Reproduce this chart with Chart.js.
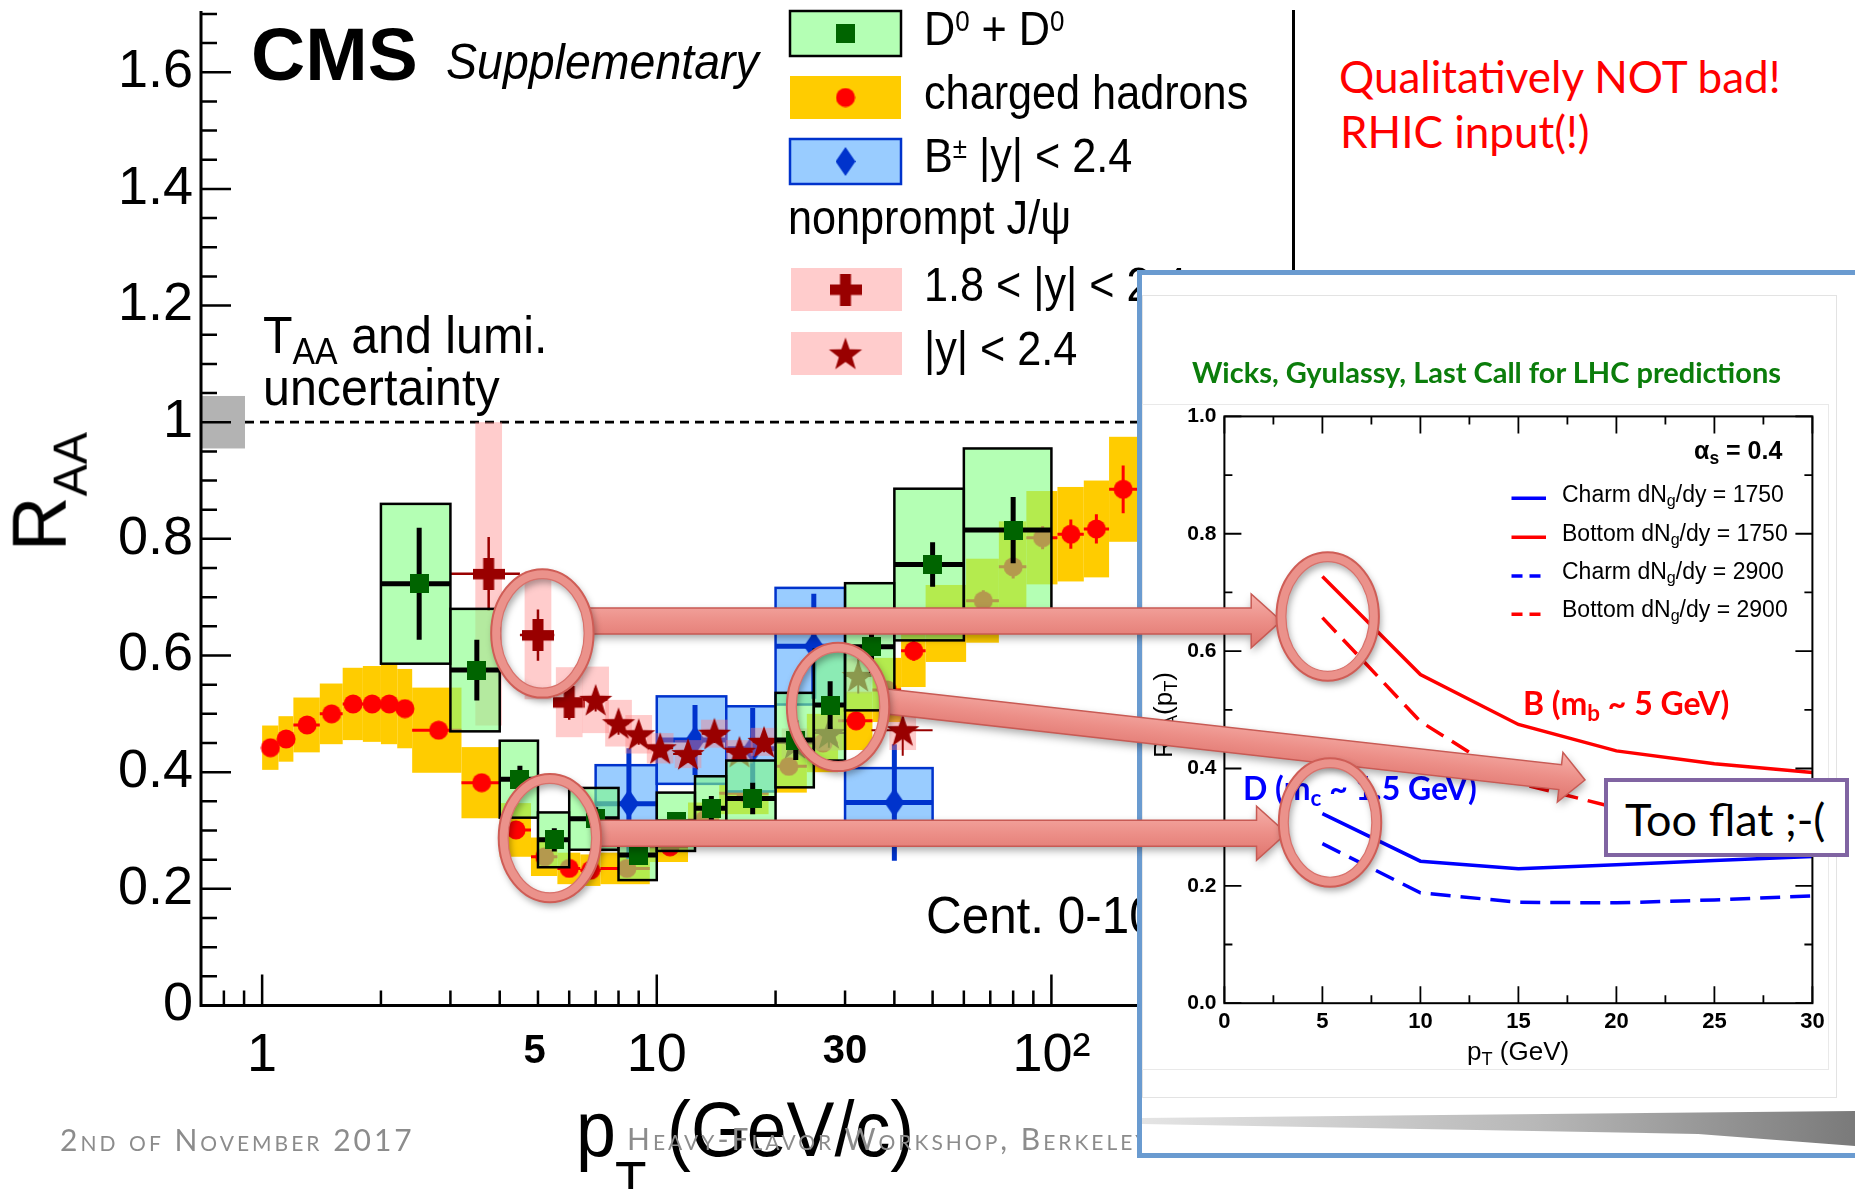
<!DOCTYPE html>
<html lang="en">
<head>
<meta charset="UTF-8">
<title>RAA heavy flavour</title>
<script src="https://cdn.jsdelivr.net/npm/chart.js"></script>
<style>
  body { margin:0; width:1855px; height:1189px; overflow:hidden; position:relative; background:#fff; }
  canvas, .abs, .txt { position:absolute; }
  .txt { white-space:nowrap; }
  .sb { font-size:0.7em; position:relative; top:0.3em; }
  .sp { font-size:0.6em; position:relative; top:-0.5em; }
  #main { left:0; top:0; z-index:1; }
  #inset { left:1143px; top:340px; z-index:6; }
  #overlay { left:0; top:0; z-index:8; pointer-events:none; }
  #panel { left:1137px; top:270px; width:740px; height:888px; border:5px solid #6a9bd0; background:#fff; box-sizing:border-box; z-index:4; }
  #frame1 { left:1142px; top:295px; width:695px; height:803px; border:1.5px solid #e3e3e3; box-sizing:border-box; z-index:5; }
  #frame2 { left:1142px; top:404px; width:687px; height:666px; border:1px solid #e9e9e9; box-sizing:border-box; z-index:5; }
  #shadow { left:1142px; top:1108px; width:713px; height:42px; z-index:5;
            background:linear-gradient(90deg,#e4e4e4 0%,#b8b8b8 55%,#7a7a7a 100%);
            clip-path:polygon(0 10px,100% 3px,100% 38px,78% 26px,0 16px); }
  #flat { left:1604px; top:778px; width:245px; height:79px; border:4px solid #8064a2; background:#fff; box-sizing:border-box; z-index:9; }
  #rline { left:1292px; top:10px; width:2.5px; height:262px; background:#000; z-index:2; }
</style>
</head>
<body>
<canvas id="main" width="1300" height="1189"></canvas>
<div class="abs" id="rline"></div>
<div class="abs" id="panel"></div>
<div class="abs" id="frame1"></div>
<div class="abs" id="frame2"></div>
<div class="abs" id="shadow"></div>
<canvas id="inset" width="690" height="740"></canvas>
<canvas id="overlay" width="1855" height="1189"></canvas>
<div class="abs" id="flat"></div>

<script>
// ---- charged hadrons, 0-100% ----
const chPt   = [1.05, 1.15, 1.3, 1.5, 1.7, 1.9, 2.1, 2.3, 2.8, 3.6, 4.4, 5.2, 6.0, 6.8, 8.4, 10.8, 13.2, 16.8, 21.6, 26.4, 32.0, 38.4, 44.8, 54.4, 67.2, 80.0, 95.0, 112, 130, 152];
const chLo   = [1.0, 1.1, 1.2, 1.4, 1.6, 1.8, 2.0, 2.2, 2.4, 3.2, 4.0, 4.8, 5.6, 6.4, 7.2, 9.6, 12.0, 14.4, 19.2, 24.0, 28.8, 35.2, 41.6, 48.0, 60.8, 73.6, 86.4, 103.6, 120.8, 140];
const chHi   = [1.1, 1.2, 1.4, 1.6, 1.8, 2.0, 2.2, 2.4, 3.2, 4.0, 4.8, 5.6, 6.4, 7.2, 9.6, 12.0, 14.4, 19.2, 24.0, 28.8, 35.2, 41.6, 48.0, 60.8, 73.6, 86.4, 103.6, 120.8, 140, 165];
const chR    = [0.442, 0.457, 0.481, 0.500, 0.517, 0.517, 0.517, 0.509, 0.472, 0.382, 0.301, 0.255, 0.235, 0.232, 0.235, 0.272, 0.318, 0.364, 0.410, 0.450, 0.488, 0.541, 0.608, 0.655, 0.694, 0.752, 0.802, 0.808, 0.817, 0.885];
const chStat = [0.004, 0.004, 0.004, 0.004, 0.004, 0.004, 0.004, 0.004, 0.004, 0.004, 0.004, 0.004, 0.004, 0.004, 0.004, 0.005, 0.006, 0.006, 0.008, 0.010, 0.012, 0.014, 0.017, 0.015, 0.018, 0.020, 0.020, 0.025, 0.025, 0.041];
const chSys  = [0.038, 0.039, 0.047, 0.052, 0.062, 0.065, 0.069, 0.068, 0.073, 0.061, 0.046, 0.033, 0.027, 0.027, 0.027, 0.026, 0.030, 0.036, 0.045, 0.050, 0.050, 0.055, 0.062, 0.066, 0.072, 0.078, 0.080, 0.081, 0.083, 0.090];

// ---- D0 + D0bar ----
const d0Pt   = [2.5, 3.5, 4.5, 5.5, 7, 9, 11.25, 13.75, 17.5, 22.5, 27.5, 35, 50, 80];
const d0Lo   = [2, 3, 4, 5, 6, 8, 10, 12.5, 15, 20, 25, 30, 40, 60];
const d0Hi   = [3, 4, 5, 6, 8, 10, 12.5, 15, 20, 25, 30, 40, 60, 100];
const d0R    = [0.723, 0.575, 0.388, 0.284, 0.320, 0.258, 0.315, 0.338, 0.355, 0.455, 0.515, 0.615, 0.756, 0.815];
const d0Stat = [0.096, 0.052, 0.023, 0.020, 0.020, 0.015, 0.012, 0.021, 0.027, 0.034, 0.041, 0.045, 0.038, 0.057];
const d0Sys  = [0.137, 0.105, 0.066, 0.047, 0.053, 0.043, 0.050, 0.055, 0.065, 0.081, 0.095, 0.109, 0.130, 0.140];

// ---- B+- |y|<2.4 ----
const bPt   = [8.5, 12.5, 17.5, 25, 40];
const bLo   = [7, 10, 15, 20, 30];
const bHi   = [10, 15, 20, 30, 50];
const bR    = [0.346, 0.455, 0.440, 0.616, 0.348];
const bStat = [0.095, 0.060, 0.070, 0.090, 0.100];
const bSys  = [0.066, 0.075, 0.073, 0.100, 0.059];

// ---- nonprompt J/psi, 1.8<|y|<2.4 ----
const jfPt   = [3.75, 5.0, 6.0];
const jfLo   = [3.0, 4.5, 5.5];
const jfHi   = [4.5, 5.5, 6.5];
const jfR    = [0.740, 0.635, 0.520];
const jfStat = [0.063, 0.044, 0.030];
const jfSys  = [0.260, 0.110, 0.060];

// ---- nonprompt J/psi, |y|<2.4 ----
const jcPt   = [7.0, 8.0, 9.0, 10.2, 12.0, 14.0, 16.2, 18.7, 22.4, 27.3, 32.4, 42.0];
const jcLo   = [6.5, 7.5, 8.5, 9.5, 11, 13, 15, 17.5, 20, 25, 30, 35];
const jcHi   = [7.5, 8.5, 9.5, 11, 13, 15, 17.5, 20, 25, 30, 35, 50];
const jcR    = [0.524, 0.484, 0.465, 0.441, 0.431, 0.466, 0.435, 0.452, 0.450, 0.467, 0.565, 0.472];
const jcStat = [0.020, 0.020, 0.018, 0.016, 0.015, 0.016, 0.016, 0.018, 0.020, 0.025, 0.030, 0.044];
const jcSys  = [0.057, 0.040, 0.033, 0.026, 0.024, 0.024, 0.020, 0.024, 0.025, 0.030, 0.030, 0.034];

const taaUnc = 0.045;
const yTicks = [0, 0.2, 0.4, 0.6, 0.8, 1.0, 1.2, 1.4, 1.6];
const xLabels = { 1: '1', 10: '10', 100: '10²' };

// ---- Wicks-Gyulassy predictions (inset) ----
const insetPt    = [5, 10, 15, 20, 25, 30];
const charm1750  = [0.323, 0.242, 0.229, 0.236, 0.243, 0.250];
const bottom1750 = [0.727, 0.560, 0.475, 0.430, 0.408, 0.393];
const charm2900  = [0.272, 0.188, 0.172, 0.171, 0.176, 0.183];
const bottom2900 = [0.657, 0.480, 0.375, 0.333, 0.310, 0.295];

Chart.defaults.font.family = '"Liberation Sans", Arial, sans-serif';
Chart.defaults.color = '#000';

const pts = (xs, ys) => xs.map((x, i) => ({ x, y: ys[i] }));

function markerCanvas(w, h, paint) {
  const c = document.createElement('canvas');
  c.width = w; c.height = h;
  paint(c.getContext('2d'), w, h);
  return c;
}
const squareImg = markerCanvas(19, 19, (g, w, h) => { g.fillStyle = '#006400'; g.fillRect(0, 0, w, h); });
const circleImg = markerCanvas(20, 20, g => { g.fillStyle = '#ff0000'; g.beginPath(); g.arc(10, 10, 9.5, 0, 2 * Math.PI); g.fill(); });
const diamondImg = markerCanvas(20, 29, (g, w, h) => {
  g.fillStyle = '#0033cc'; g.beginPath();
  g.moveTo(w / 2, 0); g.lineTo(w, h / 2); g.lineTo(w / 2, h); g.lineTo(0, h / 2); g.closePath(); g.fill();
});
const crossImg = markerCanvas(32, 32, g => { g.fillStyle = '#990000'; g.fillRect(0, 11, 32, 10.5); g.fillRect(10.5, 0, 11, 32); });
const starImg = markerCanvas(36, 36, g => {
  g.fillStyle = '#990000'; g.beginPath();
  for (let i = 0; i < 10; i++) {
    const r = i % 2 ? 7 : 17.5, a = -Math.PI / 2 + i * Math.PI / 5;
    g.lineTo(18 + r * Math.cos(a), 19.5 + r * Math.sin(a));
  }
  g.closePath(); g.fill();
});

// boxes + error bars, drawn just under each dataset's markers
const errorLayers = {
  id: 'errorLayers',
  beforeDatasetDraw(chart, args) {
    const ds = chart.data.datasets[args.index];
    if (!ds.sys) return;
    const { ctx, chartArea: a, scales: { x, y } } = chart;
    ctx.save();
    ctx.beginPath(); ctx.rect(a.left, a.top, a.right - a.left, a.bottom - a.top); ctx.clip();
    ds.data.forEach((p, i) => {
      const x0 = x.getPixelForValue(ds.boxFactor ? p.x / ds.boxFactor : ds.lo[i]);
      const x1 = x.getPixelForValue(ds.boxFactor ? p.x * ds.boxFactor : ds.hi[i]);
      const y0 = y.getPixelForValue(p.y + ds.sys[i]), y1 = y.getPixelForValue(p.y - ds.sys[i]);
      ctx.fillStyle = ds.boxFill;
      ctx.fillRect(x0, y0, x1 - x0, y1 - y0);
      if (ds.boxLine) { ctx.strokeStyle = ds.boxLine; ctx.lineWidth = 2.5; ctx.strokeRect(x0, y0, x1 - x0, y1 - y0); }
    });
    ctx.strokeStyle = ds.barColor; ctx.lineWidth = ds.barWidth;
    ctx.beginPath();
    ds.data.forEach((p, i) => {
      const px = x.getPixelForValue(p.x), py = y.getPixelForValue(p.y);
      ctx.moveTo(x.getPixelForValue(ds.lo[i]), py); ctx.lineTo(x.getPixelForValue(ds.hi[i]), py);
      ctx.moveTo(px, y.getPixelForValue(p.y + ds.stat[i])); ctx.lineTo(px, y.getPixelForValue(p.y - ds.stat[i]));
    });
    ctx.stroke();
    ctx.restore();
  }
};

const legendRows = [
  { top: 11,  h: 45, left: 790, fill: '#b4ffb4', line: '#000',    img: squareImg },
  { top: 76,  h: 43, left: 790, fill: '#ffcc00', line: null,      img: circleImg },
  { top: 139, h: 45, left: 790, fill: '#99ccff', line: '#0033cc', img: diamondImg },
  { top: 268, h: 43, left: 791, fill: '#ffcccc', line: null,      img: crossImg },
  { top: 332, h: 43, left: 791, fill: '#ffcccc', line: null,      img: starImg }
];

const cmsDecor = {
  id: 'cmsDecor',
  beforeDatasetsDraw(chart) {
    const { ctx, chartArea: a, scales: { y } } = chart;
    const y1 = y.getPixelForValue(1);
    ctx.save();
    ctx.strokeStyle = '#000'; ctx.lineWidth = 2.7; ctx.setLineDash([9, 6]);
    ctx.beginPath(); ctx.moveTo(a.left + 44, y1); ctx.lineTo(a.right, y1); ctx.stroke();
    ctx.setLineDash([]);
    const t = y.getPixelForValue(1 + taaUnc), b = y.getPixelForValue(1 - taaUnc);
    ctx.fillStyle = '#b3b3b3';
    ctx.fillRect(a.left, t, 44, b - t);
    ctx.restore();
  },
  afterDraw(chart) {
    const { ctx, chartArea: a, scales: { x, y } } = chart;
    ctx.save();
    ctx.strokeStyle = '#000'; ctx.lineWidth = 3;
    ctx.beginPath();
    ctx.moveTo(a.left, a.top); ctx.lineTo(a.left, a.bottom + 1.5);
    ctx.moveTo(a.left - 1.5, a.bottom); ctx.lineTo(a.right, a.bottom);
    ctx.stroke();
    ctx.lineWidth = 2.5;
    ctx.beginPath();
    for (let k = 0; k <= 34; k++) {
      const py = y.getPixelForValue(k * 0.05), len = k % 4 === 0 ? 30 : 16;
      ctx.moveTo(a.left, py); ctx.lineTo(a.left + len, py);
    }
    for (let d = -1; d <= 2; d++) {
      for (let m = 1; m <= 9; m++) {
        const v = m * Math.pow(10, d);
        if (v < 0.75 || v > 400) continue;
        const px = x.getPixelForValue(v), len = m === 1 ? 31 : 15;
        ctx.moveTo(px, a.bottom); ctx.lineTo(px, a.bottom - len);
      }
    }
    ctx.stroke();
    legendRows.forEach(r => {
      ctx.fillStyle = r.fill;
      ctx.fillRect(r.left, r.top, 111, r.h);
      if (r.line) { ctx.strokeStyle = r.line; ctx.lineWidth = 2.5; ctx.strokeRect(r.left, r.top, 111, r.h); }
      ctx.drawImage(r.img, 845.5 - r.img.width / 2, r.top + r.h / 2 - r.img.height / 2);
    });
    ctx.restore();
  }
};

const mainChart = new Chart(document.getElementById('main'), {
  type: 'scatter',
  data: {
    datasets: [
      { data: pts(d0Pt, d0R), lo: d0Lo, hi: d0Hi, stat: d0Stat, sys: d0Sys,
        boxFill: 'rgba(130,255,130,0.6)', boxLine: '#000', barColor: '#000', barWidth: 5,
        pointStyle: squareImg, pointRadius: 10 },
      { data: pts(jcPt, jcR), lo: jcLo, hi: jcHi, stat: jcStat, sys: jcSys, boxFactor: 1.081,
        boxFill: 'rgba(255,128,128,0.4)', barColor: '#990000', barWidth: 2,
        pointStyle: starImg, pointRadius: 10 },
      { data: pts(jfPt, jfR), lo: jfLo, hi: jfHi, stat: jfStat, sys: jfSys, boxFactor: 1.081,
        boxFill: 'rgba(255,128,128,0.4)', barColor: '#990000', barWidth: 2.5,
        pointStyle: crossImg, pointRadius: 10 },
      { data: pts(bPt, bR), lo: bLo, hi: bHi, stat: bStat, sys: bSys,
        boxFill: '#99ccff', boxLine: '#0033cc', barColor: '#0033cc', barWidth: 5,
        pointStyle: diamondImg, pointRadius: 10 },
      { data: pts(chPt, chR), lo: chLo, hi: chHi, stat: chStat, sys: chSys,
        boxFill: '#ffcc00', barColor: '#ff0000', barWidth: 3,
        pointStyle: circleImg, pointRadius: 10 }
    ]
  },
  options: {
    animation: false, responsive: false, events: [],
    layout: { padding: { top: 11, right: 7, left: 0, bottom: 0 } },
    plugins: { legend: { display: false }, tooltip: { enabled: false } },
    scales: {
      x: {
        type: 'logarithmic', min: 0.7, max: 400,
        grid: { display: false, drawTicks: false }, border: { display: false },
        afterBuildTicks: s => { s.ticks = [1, 10, 100].map(v => ({ value: v })); },
        afterFit: s => { s.height = 183.5; s.paddingLeft = 0; s.paddingRight = 0; },
        ticks: { autoSkip: false, maxRotation: 0, padding: 18, font: { size: 54 }, callback: v => xLabels[v] || '' }
      },
      y: {
        min: 0, max: 1.705,
        grid: { display: false, drawTicks: false }, border: { display: false },
        afterBuildTicks: s => { s.ticks = yTicks.map(v => ({ value: v })); },
        afterFit: s => { s.width = 201; s.paddingTop = 0; s.paddingBottom = 0; },
        ticks: { padding: 8, font: { size: 54 }, callback: v => (v === 0 || v === 1) ? String(v) : Number(v).toFixed(1) }
      }
    }
  },
  plugins: [errorLayers, cmsDecor]
});

const keySamples = [
  { y: 158.3, color: '#0000ff', dash: [] },
  { y: 197.3, color: '#ff0000', dash: [] },
  { y: 236.0, color: '#0000ff', dash: [11, 7] },
  { y: 274.3, color: '#ff0000', dash: [11, 7] }
];

const insetFrame = {
  id: 'insetFrame',
  afterDraw(chart) {
    const { ctx, chartArea: a, scales: { x, y } } = chart;
    ctx.save();
    ctx.strokeStyle = '#000'; ctx.lineWidth = 2;
    ctx.strokeRect(a.left, a.top, a.right - a.left, a.bottom - a.top);
    ctx.lineWidth = 1.8;
    ctx.beginPath();
    for (let k = 0; k <= 12; k++) {
      const px = x.getPixelForValue(k * 2.5), len = k % 2 === 0 ? 17 : 8;
      ctx.moveTo(px, a.bottom); ctx.lineTo(px, a.bottom - len);
      ctx.moveTo(px, a.top); ctx.lineTo(px, a.top + len);
    }
    for (let k = 0; k <= 10; k++) {
      const py = y.getPixelForValue(k / 10), len = k % 2 === 0 ? 17 : 8;
      ctx.moveTo(a.left, py); ctx.lineTo(a.left + len, py);
      ctx.moveTo(a.right, py); ctx.lineTo(a.right - len, py);
    }
    ctx.stroke();
    ctx.lineWidth = 3.5;
    keySamples.forEach(k => {
      ctx.strokeStyle = k.color; ctx.setLineDash(k.dash);
      ctx.beginPath(); ctx.moveTo(368.5, k.y); ctx.lineTo(403, k.y); ctx.stroke();
    });
    ctx.restore();
  }
};

const curve = (ys, color, dash) => ({
  data: pts(insetPt, ys), showLine: true, borderColor: color, borderWidth: 3.5,
  borderDash: dash, pointRadius: 0, tension: 0
});

const insetChart = new Chart(document.getElementById('inset'), {
  type: 'scatter',
  data: {
    datasets: [
      curve(charm1750, '#0000ff', []),
      curve(bottom1750, '#ff0000', []),
      curve(charm2900, '#0000ff', [20, 10]),
      curve(bottom2900, '#ff0000', [20, 10])
    ]
  },
  options: {
    animation: false, responsive: false, events: [],
    layout: { padding: { top: 76.4, right: 20.6, left: 0, bottom: 0 } },
    plugins: { legend: { display: false }, tooltip: { enabled: false } },
    scales: {
      x: {
        type: 'linear', min: 0, max: 30,
        grid: { display: false, drawTicks: false }, border: { display: false },
        afterFit: s => { s.height = 76.8; s.paddingLeft = 0; s.paddingRight = 0; },
        ticks: { stepSize: 5, padding: 6, font: { size: 22, weight: 'bold' }, callback: v => String(v) }
      },
      y: {
        min: 0, max: 1,
        grid: { display: false, drawTicks: false }, border: { display: false },
        afterFit: s => { s.width = 81.4; s.paddingTop = 0; s.paddingBottom = 0; },
        ticks: { stepSize: 0.2, padding: 8, font: { size: 21, weight: 'bold' }, callback: v => Number(v).toFixed(1) }
      }
    }
  },
  plugins: [insetFrame]
});

// ---- text ----
const K = { 'Liberation Sans': 0.8465, 'Lato': 0.887 };
function addText(t) {
  const fam = t.font || 'Liberation Sans';
  const base = K[fam] * t.size;
  const el = document.createElement('div');
  el.className = 'txt';
  el.innerHTML = t.html;
  el.style.font = `${t.style || 'normal'} ${t.weight || 400} ${t.size}px "${fam}"`;
  if (t.extra) el.style.cssText += t.extra;
  el.style.lineHeight = '1';
  el.style.left = t.x + 'px';
  el.style.top = (t.y - base) + 'px';
  el.style.color = t.color || '#000';
  el.style.zIndex = t.z || 2;
  const tf = [];
  if (t.center) tf.push('translateX(-50%)');
  if (t.rot) tf.push(`rotate(${t.rot}deg)`);
  if (t.sx) tf.push(`scaleX(${t.sx})`);
  if (tf.length) { el.style.transformOrigin = `0 ${base}px`; el.style.transform = tf.join(' '); }
  document.body.appendChild(el);
}

const grey = '#8c8c8c';
[
  { html: 'CMS', x: 251, y: 80, size: 75, weight: 700 },
  { html: 'Supplementary', x: 446, y: 79, size: 50, style: 'italic', sx: 0.93 },
  { html: 'T<span class="sb">AA</span> and lumi.', x: 263, y: 353, size: 52, sx: 0.93 },
  { html: 'uncertainty', x: 263, y: 405, size: 52, sx: 0.93 },
  { html: 'D<span class="sp">0</span> + D<span class="sp">0</span>', x: 924, y: 46, size: 48, sx: 0.9 },
  { html: 'charged hadrons', x: 924, y: 110, size: 48, sx: 0.9 },
  { html: 'B<span class="sp">±</span> |y| &lt; 2.4', x: 924, y: 173, size: 48, sx: 0.9 },
  { html: 'nonprompt J/ψ', x: 788, y: 235, size: 48, sx: 0.9 },
  { html: '1.8 &lt; |y| &lt; 2.4', x: 924, y: 302, size: 48, sx: 0.9 },
  { html: '|y| &lt; 2.4', x: 924, y: 366, size: 48, sx: 0.9 },
  { html: 'Cent. 0-100%', x: 926, y: 933, size: 52, sx: 0.95 },
  { html: '5', x: 534.5, y: 1063, size: 40, weight: 700, center: true },
  { html: '30', x: 845, y: 1063, size: 40, weight: 700, center: true },
  { html: 'p', x: 576, y: 1156, size: 78, sx: 0.92 },
  { html: 'T', x: 615, y: 1200, size: 56, sx: 0.92 },
  { html: '(GeV/c)', x: 667, y: 1156, size: 78, sx: 0.92 },
  { html: 'R<span style="font-size:48px;position:relative;top:21px">AA</span>', x: 66, y: 551, size: 76, rot: -90 },
  { html: '2nd of November 2017', x: 60, y: 1151, size: 30, font: 'Lato', color: grey, z: 3, extra: 'font-variant:small-caps;letter-spacing:3px;' },
  { html: 'Heavy-Flavor Workshop, Berkeley', x: 627, y: 1150, size: 30, font: 'Lato', color: grey, z: 3, extra: 'font-variant:small-caps;letter-spacing:3px;' },
  { html: 'Qualitatively NOT bad!', x: 1339, y: 93, size: 44, font: 'Lato', color: '#ff0000' },
  { html: 'RHIC input(!)', x: 1340, y: 148, size: 44, font: 'Lato', color: '#ff0000' },
  // inset
  { html: 'Wicks, Gyulassy, Last Call for LHC predictions', x: 1192, y: 383, size: 29, weight: 700, font: 'Lato', color: '#0b7d0b', z: 7 },
  { html: 'α<span class="sb">s</span> = 0.4', x: 1694, y: 459, size: 25, weight: 700, z: 7 },
  { html: 'Charm dN<span class="sb">g</span>/dy = 1750', x: 1562, y: 502, size: 23, z: 7 },
  { html: 'Bottom dN<span class="sb">g</span>/dy = 1750', x: 1562, y: 541, size: 23, z: 7 },
  { html: 'Charm dN<span class="sb">g</span>/dy = 2900', x: 1562, y: 579, size: 23, z: 7 },
  { html: 'Bottom dN<span class="sb">g</span>/dy = 2900', x: 1562, y: 617, size: 23, z: 7 },
  { html: 'B (m<span class="sb">b</span> ~ 5 GeV)', x: 1523, y: 715, size: 32, weight: 700, font: 'Lato', color: '#ff0000', z: 7 },
  { html: 'D (m<span class="sb">c</span> ~ 1.5 GeV)', x: 1243, y: 800, size: 32, weight: 700, font: 'Lato', color: '#0000ff', z: 7 },
  { html: 'p<span class="sb">T</span> (GeV)', x: 1467, y: 1060, size: 26, z: 7 },
  { html: 'R<span class="sb">AA</span>(p<span class="sb">T</span>)', x: 1172, y: 758, size: 26, rot: -90, z: 7 },
  { html: 'Too flat ;-(', x: 1625, y: 837, size: 45, font: 'Lato', z: 10 }
].forEach(addText);

// ---- annotation rings and arrows ----
function arrow(g, x0, y0, x1, y1, w, hw, hl) {
  const ang = Math.atan2(y1 - y0, x1 - x0), len = Math.hypot(x1 - x0, y1 - y0);
  g.save();
  g.translate(x0, y0); g.rotate(ang);
  g.beginPath();
  g.moveTo(0, -w); g.lineTo(len - hl, -w); g.lineTo(len - hl, -hw); g.lineTo(len, 0);
  g.lineTo(len - hl, hw); g.lineTo(len - hl, w); g.lineTo(0, w); g.closePath();
  const grad = g.createLinearGradient(0, -hw, 0, hw);
  grad.addColorStop(0, '#f6b0aa'); grad.addColorStop(0.5, '#ec8f88'); grad.addColorStop(1, '#df746d');
  g.fillStyle = grad;
  g.shadowColor = 'rgba(0,0,0,0.35)'; g.shadowBlur = 8; g.shadowOffsetX = 1; g.shadowOffsetY = 4;
  g.fill();
  g.shadowColor = 'transparent';
  g.strokeStyle = '#c85a54'; g.lineWidth = 1.5; g.stroke();
  g.restore();
}
function ring(g, cx, cy, rx, ry) {
  g.save();
  g.shadowColor = 'rgba(0,0,0,0.35)'; g.shadowBlur = 7; g.shadowOffsetX = 2; g.shadowOffsetY = 4;
  g.lineWidth = 9.5; g.strokeStyle = '#eb928b';
  g.beginPath(); g.ellipse(cx, cy, rx, ry, 0, 0, 2 * Math.PI); g.stroke();
  g.shadowColor = 'transparent';
  g.lineWidth = 2; g.strokeStyle = '#cf5d56';
  g.beginPath(); g.ellipse(cx, cy, rx + 4.7, ry + 4.7, 0, 0, 2 * Math.PI); g.stroke();
  g.lineWidth = 1.2; g.strokeStyle = '#d8716b';
  g.beginPath(); g.ellipse(cx, cy, rx - 4.7, ry - 4.7, 0, 0, 2 * Math.PI); g.stroke();
  g.restore();
}

(function drawOverlay() {
  const g = document.getElementById('overlay').getContext('2d');
  const onMain = (xv, yv) => ({ x: mainChart.scales.x.getPixelForValue(xv), y: mainChart.scales.y.getPixelForValue(yv) });
  const onInset = (xv, yv) => ({ x: 1143 + insetChart.scales.x.getPixelForValue(xv), y: 340 + insetChart.scales.y.getPixelForValue(yv) });
  const e1 = onMain(5.13, 0.638), e2 = onMain(5.36, 0.287), e3 = onMain(28.8, 0.512);
  const e4 = onInset(5.27, 0.659), e5 = onInset(5.39, 0.308);
  const RX = 46.5, RY = 59.5;
  const ya = (e1.y + e4.y) / 2 - 4, yb = (e2.y + e5.y) / 2 + 3;
  arrow(g, e1.x + RX - 3, ya, e4.x - RX, ya, 13, 27, 30);
  arrow(g, e2.x + RX - 3, yb, e5.x - RX + 3, yb, 13, 27, 30);
  arrow(g, e3.x + RX - 3, e3.y - 6, 1585, 780, 12.5, 25, 25);
  [e1, e2, e3, e4, e5].forEach(e => ring(g, e.x, e.y, RX, RY));
})();
</script>
</body>
</html>
